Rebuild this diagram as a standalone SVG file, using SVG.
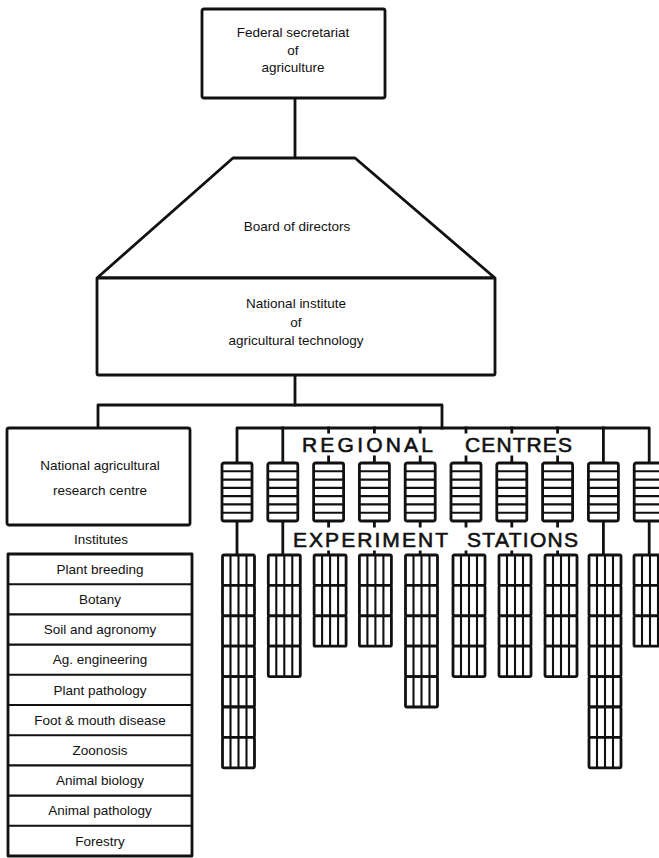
<svg xmlns="http://www.w3.org/2000/svg" xmlns:xlink="http://www.w3.org/1999/xlink" width="659" height="858" viewBox="0 0 659 858">
  <style>
    .box { fill: #fff; stroke: #111; stroke-width: 2.8; stroke-linejoin: round; }
    .inner { fill: none; stroke: #111; stroke-width: 2.1; }
    .link { fill: none; stroke: #111; stroke-width: 2.8; stroke-linejoin: round; stroke-linecap: square; }
    .lbl { font-family: "Liberation Sans", Arial, sans-serif; font-size: 13.5px; fill: #111; text-anchor: middle; }
    .caps { font-family: "Liberation Sans", Arial, sans-serif; font-size: 21px; fill: #111; stroke: #111; stroke-width: 0.6; }
  </style>
  <defs>
    <!-- regional centre: a tall block split into seven bands -->
    <g id="rc-box">
      <rect class="box" x="-15" y="0" width="30" height="58" rx="2"/>
      <path class="inner" d="M-15 8.3h30M-15 16.6h30M-15 24.9h30M-15 33.1h30M-15 41.4h30M-15 49.7h30"/>
    </g>
    <!-- one experiment-station cell: four columns -->
    <g id="es-cell">
      <rect class="box" x="-16" y="0" width="32" height="30.4" rx="1.5"/>
      <path class="inner" d="M-8 0v30.4M0 0v30.4M8 0v30.4"/>
    </g>
  </defs>

  <rect width="659" height="858" fill="#fff"/>

  <!-- connectors -->
  <g id="connectors">
    <path class="link" d="M295 98V158"/>
    <path class="link" d="M295 375V405"/>
    <path class="link" d="M98 428V405H442V428"/>
    <path class="link" d="M237 463V428H649.2V463"/>
    <!-- drops from the regional bar to each centre -->
    <path class="link" d="M282.8 428V463M603.4 428V463"/>
    <path class="link" d="M328.6 428V432M374.4 428V432M420.2 428V432M466 428V432M511.8 428V432M557.6 428V432"/>
    <path class="link" d="M328.6 457V463M374.4 457V463M420.2 457V463M466 457V463M511.8 457V463M557.6 457V463"/>
    <!-- drops from each centre to its stations -->
    <path class="link" d="M237 521V555M282.8 521V555M603.4 521V555M649.2 521V555"/>
    <path class="link" d="M328.6 521V526M374.4 521V526M420.2 521V526M466 521V526M511.8 521V526M557.6 521V526"/>
    <path class="link" d="M328.6 552V555M374.4 552V555M420.2 552V555M466 552V555M511.8 552V555M557.6 552V555"/>
  </g>

  <g id="federal-secretariat">
    <rect class="box" x="202" y="9" width="183" height="89" rx="2"/>
    <text class="lbl" x="293" y="37">Federal secretariat</text>
    <text class="lbl" x="293" y="55">of</text>
    <text class="lbl" x="293" y="72">agriculture</text>
  </g>

  <g id="board-of-directors">
    <polygon class="box" points="233,158 355,158 495,278 97,278"/>
    <text class="lbl" x="297" y="231">Board of directors</text>
  </g>

  <g id="national-institute">
    <rect class="box" x="97" y="278" width="398" height="97" rx="1.5"/>
    <text class="lbl" x="296" y="308">National institute</text>
    <text class="lbl" x="296" y="327">of</text>
    <text class="lbl" x="296" y="345">agricultural technology</text>
  </g>

  <g id="national-research-centre">
    <rect class="box" x="7" y="428" width="183" height="97" rx="2"/>
    <text class="lbl" x="100" y="470">National agricultural</text>
    <text class="lbl" x="100" y="495">research centre</text>
  </g>

  <g id="institutes">
    <text class="lbl" x="101" y="544">Institutes</text>
    <rect class="box" x="8" y="554" width="184" height="302"/>
    <path class="inner" stroke-width="2.4" d="M8 584.2H192M8 614.4H192M8 644.6H192M8 674.8H192M8 705H192M8 735.2H192M8 765.4H192M8 795.6H192M8 825.8H192"/>
    <text class="lbl" x="100" y="574">Plant breeding</text>
    <text class="lbl" x="100" y="604">Botany</text>
    <text class="lbl" x="100" y="634">Soil and agronomy</text>
    <text class="lbl" x="100" y="664">Ag. engineering</text>
    <text class="lbl" x="100" y="695">Plant pathology</text>
    <text class="lbl" x="100" y="725">Foot &amp; mouth disease</text>
    <text class="lbl" x="100" y="755">Zoonosis</text>
    <text class="lbl" x="100" y="785">Animal biology</text>
    <text class="lbl" x="100" y="815">Animal pathology</text>
    <text class="lbl" x="100" y="846">Forestry</text>
  </g>

  <g id="regional-centres-label">
    <text class="caps" x="302" y="452" textLength="131" lengthAdjust="spacing">REGIONAL</text>
    <text class="caps" x="465" y="452" textLength="107" lengthAdjust="spacing">CENTRES</text>
  </g>

  <g id="regional-centres">
    <use xlink:href="#rc-box" transform="translate(237,463)"/>
    <use xlink:href="#rc-box" transform="translate(282.8,463)"/>
    <use xlink:href="#rc-box" transform="translate(328.6,463)"/>
    <use xlink:href="#rc-box" transform="translate(374.4,463)"/>
    <use xlink:href="#rc-box" transform="translate(420.2,463)"/>
    <use xlink:href="#rc-box" transform="translate(466,463)"/>
    <use xlink:href="#rc-box" transform="translate(511.8,463)"/>
    <use xlink:href="#rc-box" transform="translate(557.6,463)"/>
    <use xlink:href="#rc-box" transform="translate(603.4,463)"/>
    <use xlink:href="#rc-box" transform="translate(649.2,463)"/>
  </g>

  <g id="experiment-stations-label">
    <text class="caps" x="293" y="547" textLength="155" lengthAdjust="spacing">EXPERIMENT</text>
    <text class="caps" x="467" y="547" textLength="111" lengthAdjust="spacing">STATIONS</text>
  </g>

  <g id="experiment-stations">
    <!-- column 1: 7 stations -->
    <g transform="translate(238.5,555)">
      <use xlink:href="#es-cell" y="0"/><use xlink:href="#es-cell" y="30.4"/><use xlink:href="#es-cell" y="60.8"/><use xlink:href="#es-cell" y="91.2"/><use xlink:href="#es-cell" y="121.6"/><use xlink:href="#es-cell" y="152"/><use xlink:href="#es-cell" y="182.4"/>
    </g>
    <!-- column 2: 4 stations -->
    <g transform="translate(284.3,555)">
      <use xlink:href="#es-cell" y="0"/><use xlink:href="#es-cell" y="30.4"/><use xlink:href="#es-cell" y="60.8"/><use xlink:href="#es-cell" y="91.2"/>
    </g>
    <!-- column 3: 3 stations -->
    <g transform="translate(330.1,555)">
      <use xlink:href="#es-cell" y="0"/><use xlink:href="#es-cell" y="30.4"/><use xlink:href="#es-cell" y="60.8"/>
    </g>
    <!-- column 4: 3 stations -->
    <g transform="translate(375.4,555)">
      <use xlink:href="#es-cell" y="0"/><use xlink:href="#es-cell" y="30.4"/><use xlink:href="#es-cell" y="60.8"/>
    </g>
    <!-- column 5: 5 stations -->
    <g transform="translate(421.5,555)">
      <use xlink:href="#es-cell" y="0"/><use xlink:href="#es-cell" y="30.4"/><use xlink:href="#es-cell" y="60.8"/><use xlink:href="#es-cell" y="91.2"/><use xlink:href="#es-cell" y="121.6"/>
    </g>
    <!-- column 6: 4 stations -->
    <g transform="translate(469,555)">
      <use xlink:href="#es-cell" y="0"/><use xlink:href="#es-cell" y="30.4"/><use xlink:href="#es-cell" y="60.8"/><use xlink:href="#es-cell" y="91.2"/>
    </g>
    <!-- column 7: 4 stations -->
    <g transform="translate(515,555)">
      <use xlink:href="#es-cell" y="0"/><use xlink:href="#es-cell" y="30.4"/><use xlink:href="#es-cell" y="60.8"/><use xlink:href="#es-cell" y="91.2"/>
    </g>
    <!-- column 8: 4 stations -->
    <g transform="translate(561,555)">
      <use xlink:href="#es-cell" y="0"/><use xlink:href="#es-cell" y="30.4"/><use xlink:href="#es-cell" y="60.8"/><use xlink:href="#es-cell" y="91.2"/>
    </g>
    <!-- column 9: 7 stations -->
    <g transform="translate(605,555)">
      <use xlink:href="#es-cell" y="0"/><use xlink:href="#es-cell" y="30.4"/><use xlink:href="#es-cell" y="60.8"/><use xlink:href="#es-cell" y="91.2"/><use xlink:href="#es-cell" y="121.6"/><use xlink:href="#es-cell" y="152"/><use xlink:href="#es-cell" y="182.4"/>
    </g>
    <!-- column 10: 3 stations -->
    <g transform="translate(650,555)">
      <use xlink:href="#es-cell" y="0"/><use xlink:href="#es-cell" y="30.4"/><use xlink:href="#es-cell" y="60.8"/>
    </g>
  </g>
</svg>
